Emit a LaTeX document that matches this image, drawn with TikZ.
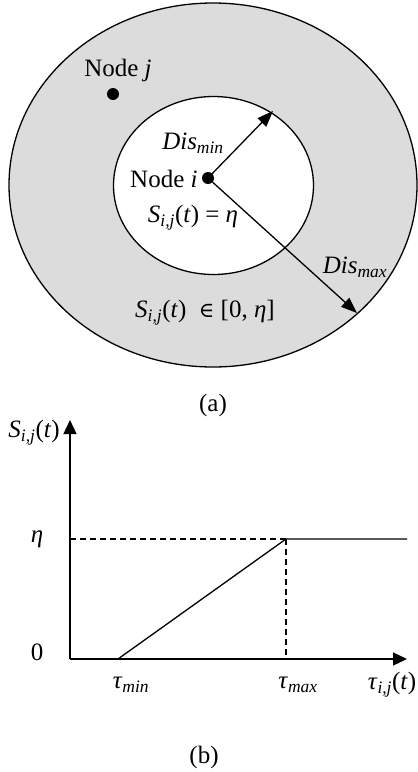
\documentclass[tikz,border=0pt]{standalone}
\usepackage{fontspec}
\setmainfont{Liberation Serif}
\newfontfamily\symfont{DejaVu Serif}
\usetikzlibrary{arrows.meta}
\definecolor{ringgray}{RGB}{220,220,220}
\newcommand{\Sij}{\textit{S}\textsubscript{\textit{i,j}}(\textit{t})}
\begin{document}
\begin{tikzpicture}[x=1pt,y=-1pt,
  lbl/.style={font=\fontsize{25}{28}\selectfont, inner sep=0pt},
  ln/.style={line width=1.3pt},
  arr/.style={ln,-{Triangle[length=16pt,width=12pt]}},
  axarr/.style={ln,-{Triangle[length=14pt,width=13pt]}},
  dotn/.style={circle,fill=black,minimum size=12pt,inner sep=0pt}]
\useasboundingbox (0,0) rectangle (418,772);
% (a)
\draw[ln,fill=ringgray] (213,185) ellipse [x radius=204, y radius=182];
\draw[ln,fill=white] (213.5,185.5) ellipse [x radius=100, y radius=89];
\node[dotn] (ni) at (208,178) {};
\node[dotn] (nj) at (113,94) {};
\coordinate (pmin) at (273,111);
\coordinate (pmax) at (357,313);
\draw[arr] (ni.center) -- (pmin);
\draw[arr] (ni.center) -- (pmax);
\node[lbl] (lj) at (118,70) {Node \textit{j}};
\node[lbl,anchor=west] (li) at (130,179) {Node \textit{i}};
\node[lbl] (ldmin) at (193,143) {\textit{Dis}\textsubscript{\textit{min}}};
\node[lbl] (leq) at (193,218) {\Sij{} = \textit{η}};
\node[lbl] (ldmax) at (355,267) {\textit{Dis}\textsubscript{\textit{max}}};
\node[lbl] (lin) at (205,313) {\Sij{}\ \ {\symfont\fontsize{21}{24}\selectfont ∈} [0,\ \textit{η}]};
\node[lbl] (capa) at (213,405) {(a)};
% (b)
\coordinate (o) at (70,659);
\coordinate (ytop) at (70,420);
\coordinate (xend) at (407,659);
\coordinate (tmin) at (118,659);
\coordinate (tmax) at (286,659);
\coordinate (peak) at (286,539);
\coordinate (eta) at (70,539);
\coordinate (flatend) at (407,539);
\draw[axarr] (o) -- (ytop);
\draw[axarr] (o) -- (xend);
\draw[ln,dashed,dash pattern=on 6pt off 4pt] (eta) -- (peak);
\draw[ln,dashed,dash pattern=on 6pt off 4pt] (peak) -- (tmax);
\draw[ln] (tmin) -- (peak) -- (flatend);
\node[lbl] (ly) at (34,433) {\Sij};
\node[lbl] (leta) at (37,539) {\textit{η}};
\node[lbl] (lzero) at (37,652) {0};
\node[lbl] (ltmin) at (131,685) {\textit{τ}\textsubscript{\textit{min}}};
\node[lbl] (ltmax) at (298,685) {\textit{τ}\textsubscript{\textit{max}}};
\node[lbl] (ltau) at (392,685) {\textit{τ}\textsubscript{\textit{i,j}}(\textit{t})};
\node[lbl] (capb) at (204,757) {(b)};
\end{tikzpicture}
\end{document}
